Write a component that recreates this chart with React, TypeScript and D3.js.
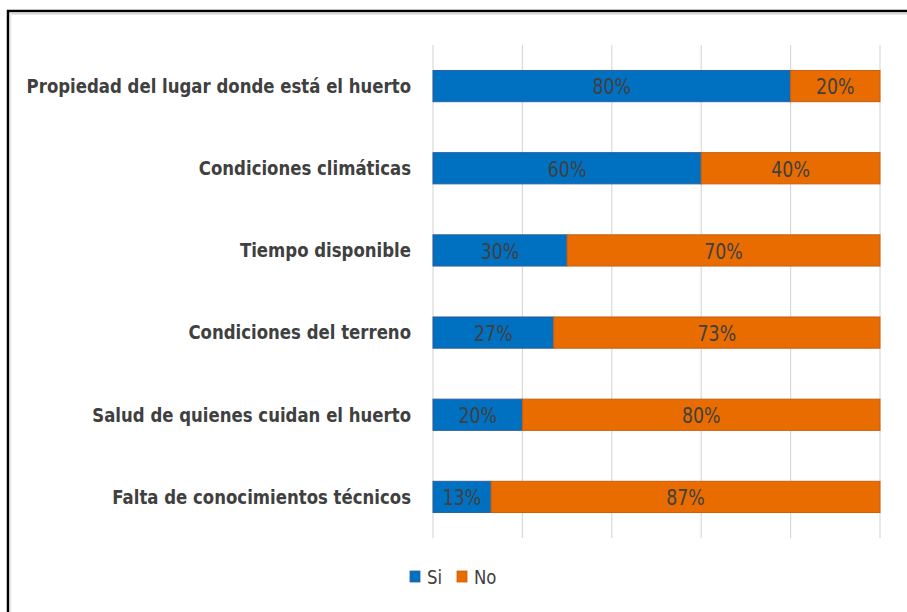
import React from 'react';
import * as d3 from 'd3';

const categories = [
  'Propiedad del lugar donde está el huerto',
  'Condiciones climáticas',
  'Tiempo disponible',
  'Condiciones del terreno',
  'Salud de quienes cuidan el huerto',
  'Falta de conocimientos técnicos',
];
const siValues = [80, 60, 30, 27, 20, 13];
const noValues = [20, 40, 70, 73, 80, 87];
const gridTicks = [0, 20, 40, 60, 80, 100];
const seriesNames = ['Si', 'No'];

const W = 907;
const H = 612;
const margin = { top: 45, right: 27, bottom: 74, left: 433 };
const colors = ['#0070C0', '#E86C00'];
const strokes = ['#2F5F9E', '#C95E10'];
const font = '"Liberation Sans Narrow", "DejaVu Sans Condensed", Arial, sans-serif';
const squeeze = 0.92; // narrow the fallback font to look like Calibri

export default function App() {
  const x = d3.scaleLinear().domain([0, 100]).range([margin.left, W - margin.right]);
  const y = d3
    .scaleBand<string>()
    .domain(categories)
    .range([margin.top, H - margin.bottom])
    .paddingInner(0.62)
    .paddingOuter(0.31);

  const rows = categories.map((c, i) => ({ c, si: siValues[i], no: noValues[i] }));

  const valueLabel = (cx: number, cy: number, v: number) => (
    <text
      transform={`translate(${cx},${cy + 1}) scale(${squeeze},1)`}
      textAnchor="middle"
      dominantBaseline="central"
      fontFamily={font}
      fontSize={21}
      fill="#404040"
    >
      {v}%
    </text>
  );

  return (
    <svg
      width={W}
      height={H}
      style={{ position: 'absolute', left: 0, top: 0, background: '#fff' }}
    >
      {/* frame */}
      <rect x={8} y={11} width={W + 10} height={H + 10} fill="none" stroke="#000" strokeWidth={2.5} />
      <line x1={10} x2={W} y1={13.5} y2={13.5} stroke="#d4d4d4" strokeWidth={2} />
      <line x1={10.5} x2={10.5} y1={13} y2={H} stroke="#e6e6e6" strokeWidth={1.5} />

      {gridTicks.map((t) => (
        <line
          key={t}
          x1={x(t)}
          x2={x(t)}
          y1={margin.top}
          y2={H - margin.bottom}
          stroke="#d9d9d9"
          strokeWidth={1.2}
        />
      ))}

      {rows.map((r) => {
        const y0 = y(r.c)!;
        const bh = y.bandwidth();
        const cy = y0 + bh / 2;
        return (
          <g key={r.c}>
            <text
              transform={`translate(${margin.left - 22},${cy}) scale(${squeeze},1)`}
              textAnchor="end"
              dominantBaseline="central"
              fontFamily={font}
              fontWeight="bold"
              fontSize={20}
              fill="#404040"
            >
              {r.c}
            </text>
            <rect
              x={x(0)}
              y={y0}
              width={x(r.si) - x(0)}
              height={bh}
              fill={colors[0]}
              stroke={strokes[0]}
              strokeWidth={1}
            />
            <rect
              x={x(r.si)}
              y={y0}
              width={x(r.si + r.no) - x(r.si)}
              height={bh}
              fill={colors[1]}
              stroke={strokes[1]}
              strokeWidth={1}
            />
            {valueLabel((x(0) + x(r.si)) / 2, cy, r.si)}
            {valueLabel((x(r.si) + x(r.si + r.no)) / 2, cy, r.no)}
          </g>
        );
      })}

      {/* legend */}
      {seriesNames.map((s, i) => {
        const lx = 410 + i * 47;
        return (
          <g key={s}>
            <rect x={lx} y={571} width={10} height={11} fill={colors[i]} stroke={strokes[i]} strokeWidth={0.8} />
            <text
              transform={`translate(${lx + 17},577) scale(${squeeze},1)`}
              dominantBaseline="central"
              fontFamily={font}
              fontSize={20}
              fill="#404040"
            >
              {s}
            </text>
          </g>
        );
      })}
    </svg>
  );
}
